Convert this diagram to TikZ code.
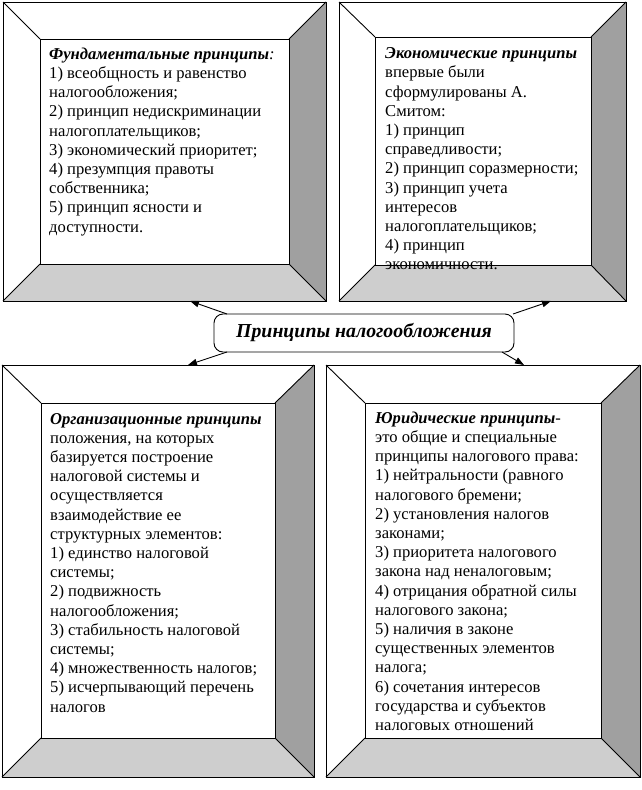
\documentclass[tikz,border=0pt]{standalone}
\usepackage{fontspec}
\setmainfont{Liberation Serif}
\usetikzlibrary{arrows.meta,calc}
\definecolor{bevR}{RGB}{160,160,160}
\definecolor{bevB}{RGB}{206,206,206}
\newcommand\bevelbox[9]{%
  \coordinate (#1-a) at (#2,#3); \coordinate (#1-b) at (#4,#3);
  \coordinate (#1-c) at (#4,#5); \coordinate (#1-d) at (#2,#5);
  \coordinate (#1-ia) at (#6,#7); \coordinate (#1-ib) at (#8,#7);
  \coordinate (#1-ic) at (#8,#9); \coordinate (#1-id) at (#6,#9);
  \fill[white] (#1-a) rectangle (#1-c);
  \fill[bevR] (#1-b) -- (#1-c) -- (#1-ic) -- (#1-ib) -- cycle;
  \fill[bevB] (#1-d) -- (#1-c) -- (#1-ic) -- (#1-id) -- cycle;
  \draw[frame] (#1-a) rectangle (#1-c);
  \draw[frame] (#1-ia) rectangle (#1-ic);
  \draw[frame] (#1-a) -- (#1-ia) (#1-b) -- (#1-ib) (#1-c) -- (#1-ic) (#1-d) -- (#1-id);
}
\begin{document}
\begin{tikzpicture}[x=1pt,y=-1pt,
  frame/.style={draw=black,line width=0.9pt},
  txt/.style={anchor=north west,align=left,inner sep=0pt,font=\fontsize{16.6}{19.2}\selectfont},
  arr/.style={draw=black,line width=0.9pt,-{Triangle[length=9pt,width=6.5pt]}},
  title/.style={draw=black,line width=0.9pt,fill=white,rounded corners=9pt,minimum width=300pt,minimum height=38pt,inner sep=0pt,font=\fontsize{19.8}{22}\selectfont\bfseries\itshape}]
\useasboundingbox (0,0) rectangle (641,790);
\fill[white] (0,0) rectangle (641,790);
\bevelbox{tl}{3}{2}{326}{301}{40}{39}{289}{264}
\bevelbox{tr}{339}{2}{626}{301}{375}{37}{591}{265}
\bevelbox{bl}{2}{365}{314}{777}{41}{403}{275}{738}
\bevelbox{br}{326}{365}{640}{777}{365}{403}{601}{738}
\node[txt] (tltext) at (49,47.5) {\textbf{\textit{Фундаментальные принципы}}\textit{:}\\
1) всеобщность и равенство\\
налогообложения;\\
2) принцип недискриминации\\
налогоплательщиков;\\
3) экономический приоритет;\\
4) презумпция правоты\\
собственника;\\
5) принцип ясности и\\
доступности.};
\node[txt] (trtext) at (385,47.5) {\textbf{\textit{Экономические принципы}}\\
впервые были\\
сформулированы А.\\
Смитом:\\
1) принцип\\
справедливости;\\
2) принцип соразмерности;\\
3) принцип учета\\
интересов\\
налогоплательщиков;\\
4) принцип\\
экономичности.};
\node[txt] (bltext) at (50,413) {\textbf{\textit{Организационные принципы}}\\
положения, на которых\\
базируется построение\\
налоговой системы и\\
осуществляется\\
взаимодействие ее\\
структурных элементов:\\
1) единство налоговой\\
системы;\\
2) подвижность\\
налогообложения;\\
3) стабильность налоговой\\
системы;\\
4) множественность налогов;\\
5) исчерпывающий перечень\\
налогов};
\node[txt] (brtext) at (375,411.5) {\textbf{\textit{Юридические принципы}}-\\
это общие и специальные\\
принципы налогового права:\\
1) нейтральности (равного\\
налогового бремени;\\
2) установления налогов\\
законами;\\
3) приоритета налогового\\
закона над неналоговым;\\
4) отрицания обратной силы\\
налогового закона;\\
5) наличия в законе\\
существенных элементов\\
налога;\\
6) сочетания интересов\\
государства и субъектов\\
налоговых отношений};
\node[title] (ttl) at (364,333) {Принципы налогообложения};
\coordinate (s1) at (227,314); \coordinate (e1) at (190,301);
\coordinate (s2) at (227,352); \coordinate (e2) at (188,365);
\coordinate (s3) at (513,314); \coordinate (e3) at (551,301);
\coordinate (s4) at (502,352); \coordinate (e4) at (524,365);
\draw[arr] (s1) -- (e1);
\draw[arr] (s2) -- (e2);
\draw[arr] (s3) -- (e3);
\draw[arr] (s4) -- (e4);
\end{tikzpicture}
\end{document}
